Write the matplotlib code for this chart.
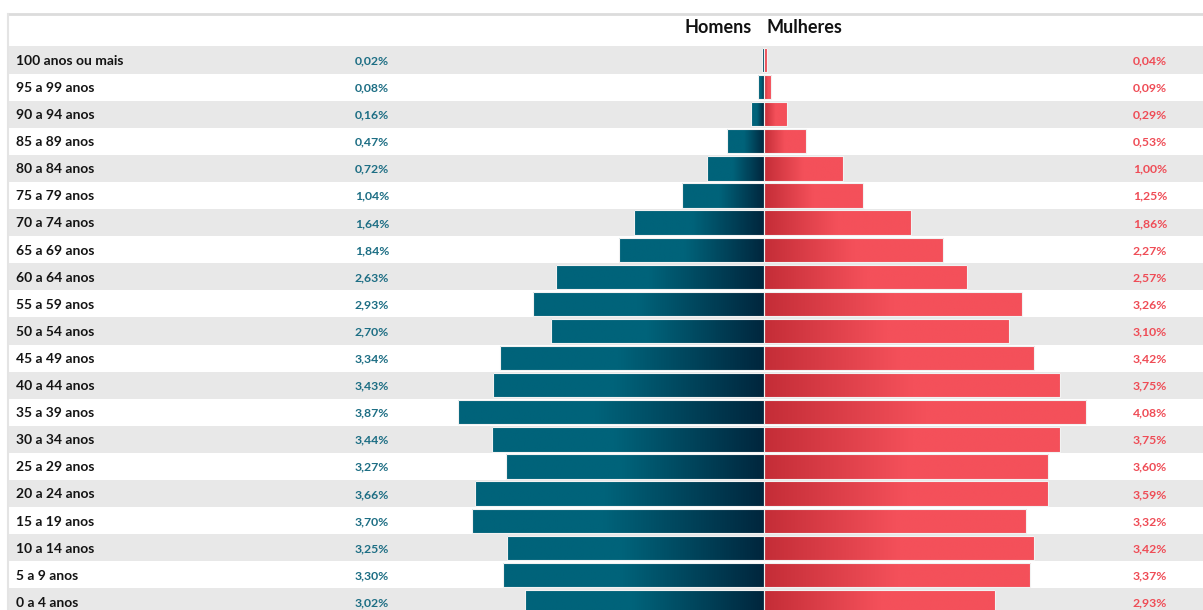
import numpy as np
import matplotlib.pyplot as plt
from matplotlib.colors import to_rgb
from matplotlib.lines import Line2D

plt.rcParams['font.family'] = ['Lato', 'DejaVu Sans']

faixas = ["100 anos ou mais", "95 a 99 anos", "90 a 94 anos", "85 a 89 anos",
          "80 a 84 anos", "75 a 79 anos", "70 a 74 anos", "65 a 69 anos",
          "60 a 64 anos", "55 a 59 anos", "50 a 54 anos", "45 a 49 anos",
          "40 a 44 anos", "35 a 39 anos", "30 a 34 anos", "25 a 29 anos",
          "20 a 24 anos", "15 a 19 anos", "10 a 14 anos", "5 a 9 anos",
          "0 a 4 anos"]
homens = [0.02, 0.08, 0.16, 0.47, 0.72, 1.04, 1.64, 1.84, 2.63, 2.93, 2.70,
          3.34, 3.43, 3.87, 3.44, 3.27, 3.66, 3.70, 3.25, 3.30, 3.02]
mulheres = [0.04, 0.09, 0.29, 0.53, 1.00, 1.25, 1.86, 2.27, 2.57, 3.26, 3.10,
            3.42, 3.75, 4.08, 3.75, 3.60, 3.59, 3.32, 3.42, 3.37, 2.93]

AZUL_CLARO = "#00637a"
AZUL_ESCURO = "#00263d"
VERM_ESCURO = "#c42d37"
VERM_CLARO = "#f4505a"
COR_TXT_H = "#1d6e84"
COR_TXT_M = "#ef4c56"


def gradiente(c_ini, c_fim, frac, n=200):
    # vai de c_ini ate c_fim na fracao frac do comprimento, depois fica constante
    t = np.clip(np.linspace(0, 1, n) / frac, 0, 1)
    a, b = np.array(to_rgb(c_ini)), np.array(to_rgb(c_fim))
    cores = a[None, :] * (1 - t[:, None]) + b[None, :] * t[:, None]
    return cores[None, :, :]


def fmt(v):
    return f"{v:.2f}%".replace(".", ",")


fig = plt.figure(figsize=(12.03, 6.10), dpi=100)
ax = fig.add_axes([0, 0, 1, 1])

# escala em pixels: centro em x=764, 79 px por ponto percentual
xmin, xmax = -764 / 79, (1203 - 764) / 79
ymin, ymax = -60 / 27.1, (610 - 60) / 27.1

y = np.arange(len(faixas))
h = np.array(homens)
m = np.array(mulheres)

# faixas cinzas alternadas
for i in y:
    if i % 2 == 0:
        ax.axhspan(i - 0.5, i + 0.5, xmin=(8 / 1203), xmax=1, color="#e8e8e8", zorder=0, lw=0)

bar_h = 0.9
bh = ax.barh(y, h, left=-h, height=bar_h, facecolor="none", edgecolor="#f2f2f2", lw=0.8, zorder=3)
bm = ax.barh(y, m, left=0, height=bar_h, facecolor="none", edgecolor="#f2f2f2", lw=0.8, zorder=3)

grad_h = gradiente(AZUL_ESCURO, AZUL_CLARO, 0.55)[:, ::-1, :]
grad_m = gradiente(VERM_ESCURO, VERM_CLARO, 0.5)

for bar in bh:
    x0, y0 = bar.get_xy()
    im = ax.imshow(grad_h, extent=[x0, x0 + bar.get_width(), y0, y0 + bar.get_height()],
                   aspect="auto", zorder=2, interpolation="bilinear")
    im.set_clip_path(bar)
for bar in bm:
    x0, y0 = bar.get_xy()
    im = ax.imshow(grad_m, extent=[x0, x0 + bar.get_width(), y0, y0 + bar.get_height()],
                   aspect="auto", zorder=2, interpolation="bilinear")
    im.set_clip_path(bar)

# textos
for i in y:
    ax.text(16 / 79 + xmin, i + 0.03, faixas[i], ha="left", va="center", fontsize=10,
            fontweight="bold", color="#141414", zorder=4)
    ax.text((372 - 764) / 79, i + 0.03, fmt(homens[i]), ha="center", va="center", fontsize=8.8,
            fontweight="bold", color=COR_TXT_H, zorder=4)
    ax.text((1150 - 764) / 79, i + 0.03, fmt(mulheres[i]), ha="center", va="center", fontsize=8.8,
            fontweight="bold", color=COR_TXT_M, zorder=4)

ax.text(-0.16, (27 - 60) / 27.1, "Homens", ha="right", va="center", fontsize=13,
        fontweight="bold", color="#111111")
ax.text(0.03, (27 - 60) / 27.1, "Mulheres", ha="left", va="center", fontsize=13,
        fontweight="bold", color="#111111")

ax.set_xlim(xmin, xmax)
ax.set_ylim(ymax, ymin)
ax.axis("off")

# moldura clara no topo e na esquerda
fig.add_artist(Line2D([8 / 1203, 1], [1 - 14 / 610, 1 - 14 / 610], color="#dcdcdc", lw=2))
fig.add_artist(Line2D([8 / 1203, 8 / 1203], [0, 1 - 14 / 610], color="#e4e4e4", lw=1.5))

fig.savefig("out.png", dpi=100)
